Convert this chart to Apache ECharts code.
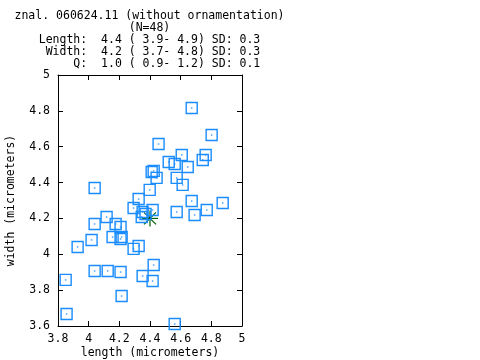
<!DOCTYPE html>
<html><head><meta charset="utf-8">
<script src="https://cdn.jsdelivr.net/npm/echarts@6/dist/echarts.min.js"></script>
<style>html,body{margin:0;padding:0;background:#fff}#c{width:480px;height:360px}</style>
</head><body><div id="c"></div>
<script>
const titleLines = [
  'znal. 060624.11 (without ornamentation)',
  '(N=48)',
  'Length:  4.4 ( 3.9- 4.9) SD: 0.3',
  ' Width:  4.2 ( 3.7- 4.8) SD: 0.3',
  '     Q:  1.0 ( 0.9- 1.2) SD: 0.1'
];
const lengths = [4.672,4.802,4.456,4.607,4.763,4.744,4.522,4.561,4.646,4.411,4.424,4.443,4.574,4.613,4.039,4.398,
  4.326,4.672,4.874,4.293,4.770,4.417,4.574,4.352,4.691,4.346,4.117,4.039,4.176,4.208,4.019,4.156,
  4.215,4.208,3.928,4.326,4.293,4.424,4.039,4.124,4.208,4.352,4.417,3.850,4.215,3.856,4.561,4.371];
const widths = [4.816,4.665,4.615,4.554,4.554,4.526,4.515,4.504,4.487,4.459,4.465,4.426,4.426,4.387,4.370,4.359,
  4.308,4.297,4.286,4.258,4.247,4.247,4.236,4.236,4.219,4.208,4.208,4.169,4.169,4.152,4.080,4.096,
  4.096,4.085,4.041,4.046,4.030,3.940,3.907,3.907,3.901,3.879,3.851,3.857,3.767,3.667,3.611,4.225];
const meanPoint = [4.4, 4.2];
const xTickLabels = ['3.8','4','4.2','4.4','4.6','4.8','5'];
const yTickLabels = ['3.6','3.8','4','4.2','4.4','4.6','4.8','5'];
const xMin = 3.8, xMax = 5, yMin = 3.6, yMax = 5, step = 0.2;

const pts = lengths.map((l, i) => [l, widths[i]]);
const FONT = 'DejaVu Sans Mono';
const blue = '#1a8cff';
const chart = echarts.init(document.getElementById('c'), null, {renderer: 'canvas'});
const lbl = (arr, mn) => v => arr[Math.round((v - mn) / step)] || '';
const axLine = {show: true, lineStyle: {color: '#000', width: 1}};
const tick = {show: true, inside: true, length: 5, lineStyle: {color: '#000'}};
chart.setOption({
  animation: false,
  backgroundColor: '#fff',
  graphic: [{
    type: 'text', x: 149.5, y: 10,
    style: {text: titleLines.join('\n'), textAlign: 'center', textVerticalAlign: 'top',
      font: '11.5px "' + FONT + '"', lineHeight: 12, fill: '#000'}
  }],
  grid: {left: 58, right: 238, top: 75, bottom: 34, containLabel: false, outerBoundsMode: 'none'},
  xAxis: [{
    type: 'value', min: xMin, max: xMax, interval: step, position: 'bottom',
    name: 'length (micrometers)', nameLocation: 'middle', nameGap: 21, nameMoveOverlap: false,
    nameTextStyle: {fontFamily: FONT, fontSize: 11.5, color: '#000'},
    axisLine: axLine, axisTick: tick, splitLine: {show: false},
    axisLabel: {formatter: lbl(xTickLabels, xMin), fontFamily: FONT, fontSize: 11.5, color: '#000', margin: 7}
  }, {
    type: 'value', min: xMin, max: xMax, interval: step, position: 'top',
    axisLine: axLine, axisTick: tick, splitLine: {show: false}, axisLabel: {show: false}
  }],
  yAxis: [{
    type: 'value', min: yMin, max: yMax, interval: step, position: 'left',
    name: 'width (micrometers)', nameLocation: 'middle', nameGap: 41, nameMoveOverlap: false,
    nameTextStyle: {fontFamily: FONT, fontSize: 11.5, color: '#000'},
    axisLine: axLine, axisTick: tick, splitLine: {show: false},
    axisLabel: {formatter: lbl(yTickLabels, yMin), fontFamily: FONT, fontSize: 11.5, color: '#000', margin: 8}
  }, {
    type: 'value', min: yMin, max: yMax, interval: step, position: 'right',
    axisLine: axLine, axisTick: tick, splitLine: {show: false}, axisLabel: {show: false}
  }],
  series: [{
    type: 'scatter', data: pts, symbol: 'rect', symbolSize: 11,
    itemStyle: {color: 'rgba(0,0,0,0)', borderColor: blue, borderWidth: 1.4, opacity: 1},
    emphasis: {disabled: true}, silent: true
  }, {
    type: 'scatter', data: pts, symbol: 'rect', symbolSize: 1.5,
    itemStyle: {color: blue}, silent: true
  }, {
    type: 'custom', data: [meanPoint], silent: true,
    renderItem: (params, api) => {
      const c = api.coord([api.value(0), api.value(1)]);
      const r = 8, d = 6;
      const segs = [[-r,0,r,0],[0,-r,0,r],[-d,-d,d,d],[-d,d,d,-d]];
      return {type: 'group', children: segs.map(s => ({
        type: 'line', shape: {x1: c[0]+s[0], y1: c[1]+s[1], x2: c[0]+s[2], y2: c[1]+s[3]},
        style: {stroke: '#006000', lineWidth: 1.2}
      })).concat([{type: 'circle', shape: {cx: c[0], cy: c[1], r: 1.5}, style: {fill: '#003c00'}}])};
    }
  }]
});
</script></body></html>
